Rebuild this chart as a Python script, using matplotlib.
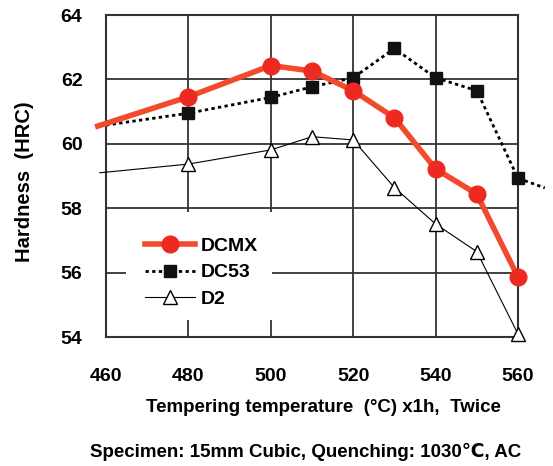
import matplotlib
matplotlib.use("Agg")
import matplotlib.pyplot as plt
from matplotlib.patches import Rectangle

# -------- data ----------------------------------
# first/last points without markers are the line stubs running past the frame
dcmx_x = [458, 480, 500, 510, 520, 530, 540, 550, 560]
dcmx_y = [60.55, 61.46, 62.43, 62.26, 61.65, 60.81, 59.22, 58.44, 55.86]

dc53_x = [460, 480, 500, 510, 520, 530, 540, 550, 560, 566.5]
dc53_y = [60.58, 60.95, 61.44, 61.77, 62.05, 62.96, 62.05, 61.65, 58.93, 58.63]

d2_x = [458.5, 480, 500, 510, 520, 530, 540, 550, 560]
d2_y = [59.10, 59.37, 59.81, 60.22, 60.12, 58.64, 57.51, 56.65, 54.09]

x_ticks = [460, 480, 500, 520, 540, 560]
y_ticks = [54, 56, 58, 60, 62, 64]

FONT = ["Liberation Sans", "DejaVu Sans"]
plt.rcParams["font.family"] = FONT

fig = plt.figure(figsize=(5.53, 4.66), dpi=100)
ax = fig.add_axes([106 / 553, 1 - 337 / 466, 412 / 553, 322 / 466])

ax.set_xlim(460, 560)
ax.set_ylim(54, 64)
ax.set_xticks(x_ticks)
ax.set_yticks(y_ticks)
ax.tick_params(length=0, labelsize=14)
ax.tick_params(axis="y", pad=17)
ax.tick_params(axis="x", pad=22)
for lab in ax.get_xticklabels() + ax.get_yticklabels():
    lab.set_fontweight("bold")

ax.grid(True, color="#333333", linewidth=1.3)
ax.set_axisbelow(True)
for sp in ax.spines.values():
    sp.set_color("#333333")
    sp.set_linewidth(1.5)

# white block behind the legend (it hides the grid there)
ax.add_patch(Rectangle((0.049, 0.053), 0.354, 0.335, transform=ax.transAxes,
                       facecolor="white", edgecolor="none", zorder=1.5))

ax.plot(d2_x, d2_y, color="black", linewidth=0.8, marker="^", markersize=10,
        markerfacecolor="white", markeredgecolor="black", markeredgewidth=1.0,
        markevery=list(range(1, len(d2_x))), clip_on=False, zorder=3, label="D2")
ax.plot(dc53_x, dc53_y, color="black", linewidth=2.0, linestyle=(0, (1.2, 1.2)),
        marker="s", markersize=9, markerfacecolor="#111111", markeredgecolor="#111111",
        markevery=list(range(1, len(dc53_x) - 1)), clip_on=False, zorder=4, label="DC53")
ax.plot(dcmx_x, dcmx_y, color="#f24a2c", linewidth=4.0, marker="o", markersize=12,
        markerfacecolor="#ec2a22", markeredgecolor="#ec2a22",
        markevery=list(range(1, len(dcmx_x))), clip_on=False, zorder=5, label="DCMX")

handles, labels = ax.get_legend_handles_labels()
leg = ax.legend(handles[::-1], labels[::-1], loc="center left",
                bbox_to_anchor=(0.075, 0.2), frameon=False, fontsize=14,
                handlelength=2.6, handletextpad=0.3, labelspacing=0.45,
                borderaxespad=0)
for t in leg.get_texts():
    t.set_fontweight("bold")
leg.set_zorder(6)

fig.text(25 / 553, 1 - 182 / 466, "Hardness  (HRC)", rotation=90, ha="center",
         va="center", fontsize=14.5, fontweight="bold")
fig.text(323 / 553, 1 - 408 / 466, "Tempering temperature  (°C) x1h,  Twice",
         ha="center", va="center", fontsize=13.5, fontweight="bold")
fig.text(306 / 553, 1 - 452 / 466, "Specimen: 15mm Cubic, Quenching: 1030℃, AC",
         ha="center", va="center", fontsize=13.5, fontweight="bold")

fig.savefig("out.png", dpi=100)
